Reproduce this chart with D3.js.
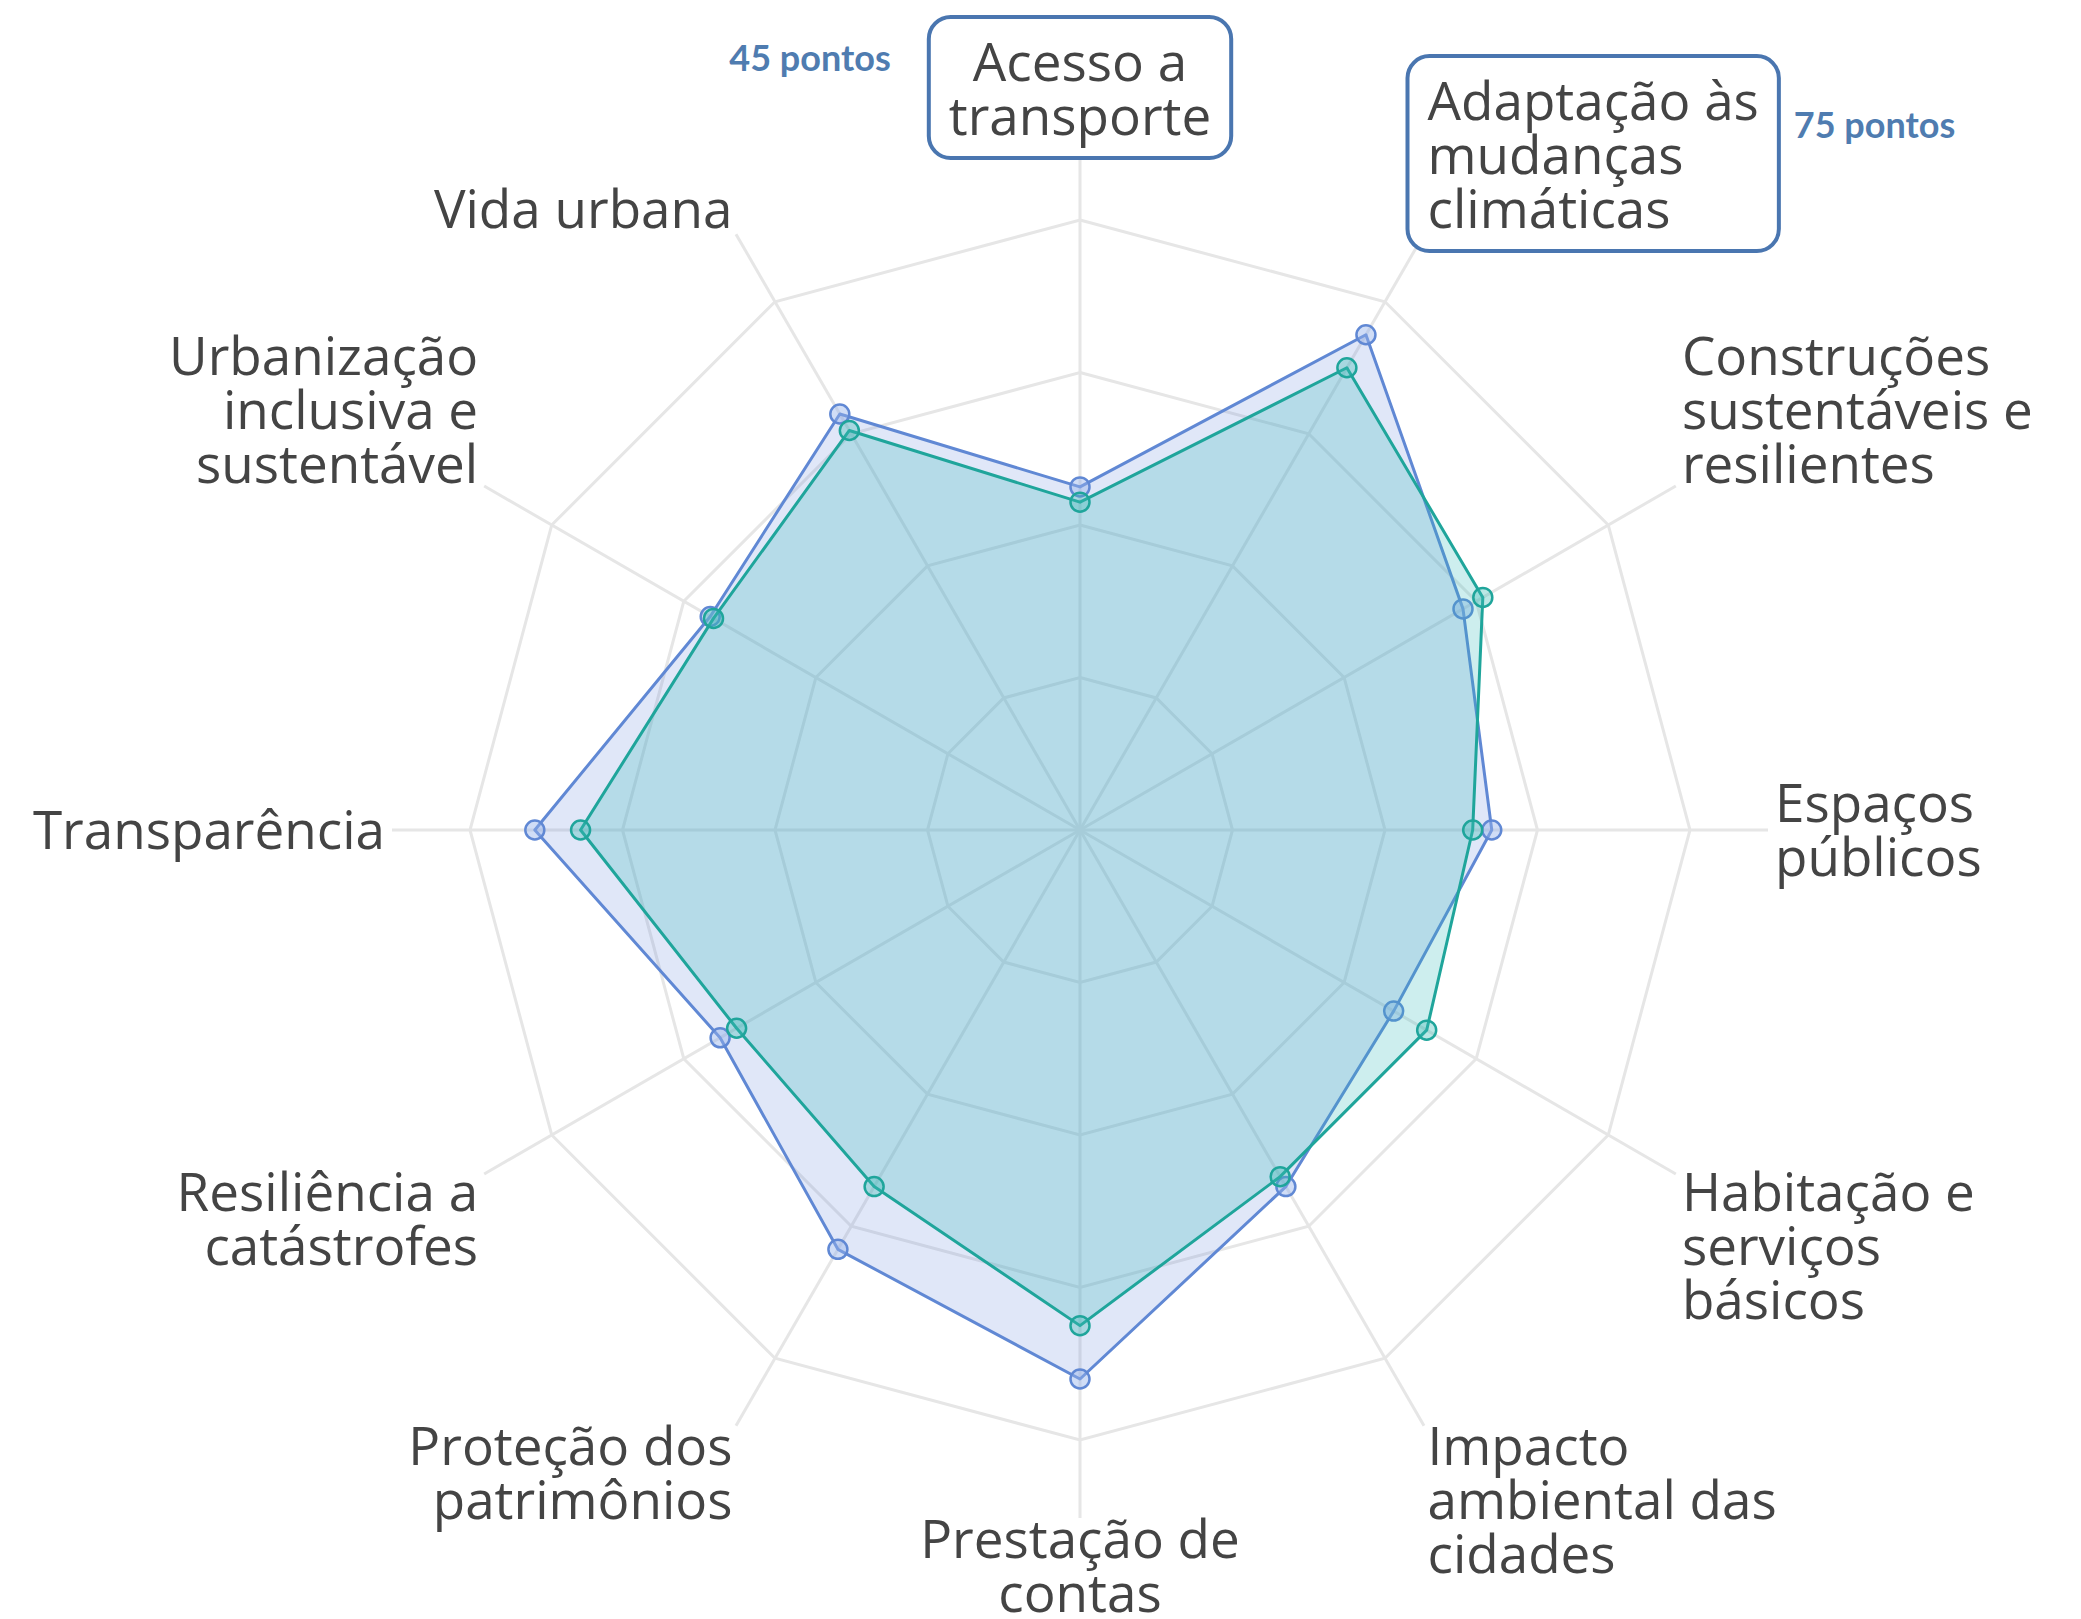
<!DOCTYPE html>
<html>
<head>
<meta charset="utf-8">
<script src="https://cdn.jsdelivr.net/npm/d3@7"></script>
<style>
  body { margin: 0; background: #fff; }
  svg { display: block; }
</style>
</head>
<body>
<div id="chart"></div>
<script>
// eixos do radar, em sentido horário a partir do topo
const categories = [
    "Acesso a transporte", "Adaptação às mudanças climáticas", "Construções sustentáveis e resilientes",
    "Espaços públicos", "Habitação e serviços básicos", "Impacto ambiental das cidades",
    "Prestação de contas", "Proteção dos patrimônios", "Resiliência a catástrofes",
    "Transparência", "Urbanização inclusiva e sustentável", "Vida urbana"
];
const labelLines = [
    ["Acesso a", "transporte"], ["Adaptação às", "mudanças", "climáticas"], ["Construções", "sustentáveis e", "resilientes"],
    ["Espaços", "públicos"], ["Habitação e", "serviços", "básicos"], ["Impacto", "ambiental das", "cidades"],
    ["Prestação de", "contas"], ["Proteção dos", "patrimônios"], ["Resiliência a", "catástrofes"],
    ["Transparência"], ["Urbanização", "inclusiva e", "sustentável"], ["Vida urbana"]
];
const serieAzul  = [45, 75, 58, 54, 47.5, 54, 72, 63.5, 54.5, 71.5, 56, 63];
const serieVerde = [43, 70, 61, 51.5, 52.5, 52.5, 65, 54, 52, 65.5, 55.5, 60.5];
const radialTicks = [20, 40, 60, 80];
const destaques = [0, 1];   // eixos com caixa e anotação "pontos"

const width = 2081, height = 1619;
const cx = 1080, cy = 830;
const R = 610, spokeR = 688, labelR = 695;
const fontSize = 53, lineH = 54, capH = 38;

const svg = d3.select("#chart").append("svg").attr("width", width).attr("height", height);
const g = svg.append("g").attr("transform", `translate(${cx},${cy})`);

const n = categories.length;
const angle = d3.scaleLinear().domain([0, n]).range([0, 2 * Math.PI]);
const r = d3.scaleLinear().domain([0, 80]).range([0, R]);

const px = (i, rad) => rad * Math.sin(angle(i));
const py = (i, rad) => -rad * Math.cos(angle(i));

// grade
const ring = d3.lineRadial().angle((d, i) => angle(i)).curve(d3.curveLinearClosed);
g.selectAll(".ring").data(radialTicks).join("path")
    .attr("d", t => ring.radius(r(t))(categories))
    .attr("fill", "none").attr("stroke", "#e6e6e6").attr("stroke-width", 3);

g.selectAll(".spoke").data(categories).join("line")
    .attr("x1", 0).attr("y1", 0)
    .attr("x2", (d, i) => px(i, spokeR)).attr("y2", (d, i) => py(i, spokeR))
    .attr("stroke", "#e6e6e6").attr("stroke-width", 3);

// séries
const area = d3.lineRadial().angle((d, i) => angle(i)).radius(d => r(d)).curve(d3.curveLinearClosed);
const series = [
    { values: serieAzul, stroke: "#6088d4", fill: "rgba(99,133,220,0.2)", dot: "rgba(150,180,235,0.45)" },
    { values: serieVerde, stroke: "#1fa59b", fill: "rgba(45,185,185,0.24)", dot: "rgba(60,185,180,0.35)" }
];
series.forEach(s => {
    g.append("path").datum(s.values)
        .attr("d", area)
        .attr("fill", s.fill).attr("stroke", s.stroke).attr("stroke-width", 3)
        .attr("stroke-linejoin", "round");
    g.selectAll(null).data(s.values).join("circle")
        .attr("cx", (d, i) => px(i, r(d))).attr("cy", (d, i) => py(i, r(d)))
        .attr("r", 9.5)
        .attr("fill", s.dot).attr("stroke", s.stroke).attr("stroke-width", 2.5);
});

// rótulos dos eixos
const labels = g.selectAll(".label").data(labelLines).join("text")
    .attr("font-family", "'Open Sans', sans-serif")
    .attr("font-size", fontSize)
    .attr("fill", "#444")
    .attr("text-anchor", (d, i) => {
        const s = Math.sin(angle(i));
        return s > 0.01 ? "start" : s < -0.01 ? "end" : "middle";
    })
    .each(function(lines, i) {
        const x = px(i, labelR), y = py(i, labelR);
        const c = Math.cos(angle(i));
        let y0;
        if (c > 0.01) y0 = y - (lines.length - 1) * lineH;
        else if (c < -0.01) y0 = y + capH - 5;
        else y0 = y - (lines.length - 1) * lineH / 2 + capH / 2;
        d3.select(this).selectAll("tspan").data(lines).join("tspan")
            .attr("x", x).attr("y", (l, k) => y0 + k * lineH)
            .text(l => l);
    });

// destaques: caixa arredondada + valor
labels.filter((d, i) => destaques.includes(i)).each(function(d) {
    const i = labelLines.indexOf(d);
    const bb = this.getBBox();
    const padX = 20, padY = 7;
    const box = { x: bb.x - padX, y: bb.y - padY, w: bb.width + 2 * padX, h: bb.height + 2 * padY };
    const node = this;
    g.insert("rect", () => node)
        .attr("x", box.x).attr("y", box.y).attr("width", box.w).attr("height", box.h)
        .attr("rx", 22).attr("fill", "#fff")
        .attr("stroke", "#4a76b0").attr("stroke-width", 4);
    const left = Math.sin(angle(i)) < 0.01;
    g.append("text")
        .attr("x", left ? box.x - 38 : box.x + box.w + 15)
        .attr("y", box.y + (left ? 0.38 : 0.42) * box.h)
        .attr("text-anchor", left ? "end" : "start")
        .attr("font-family", "Lato, sans-serif").attr("font-weight", 700)
        .attr("font-size", 36).attr("fill", "#4f7cb0")
        .text(`${serieAzul[i]} pontos`);
});
</script>
</body>
</html>
